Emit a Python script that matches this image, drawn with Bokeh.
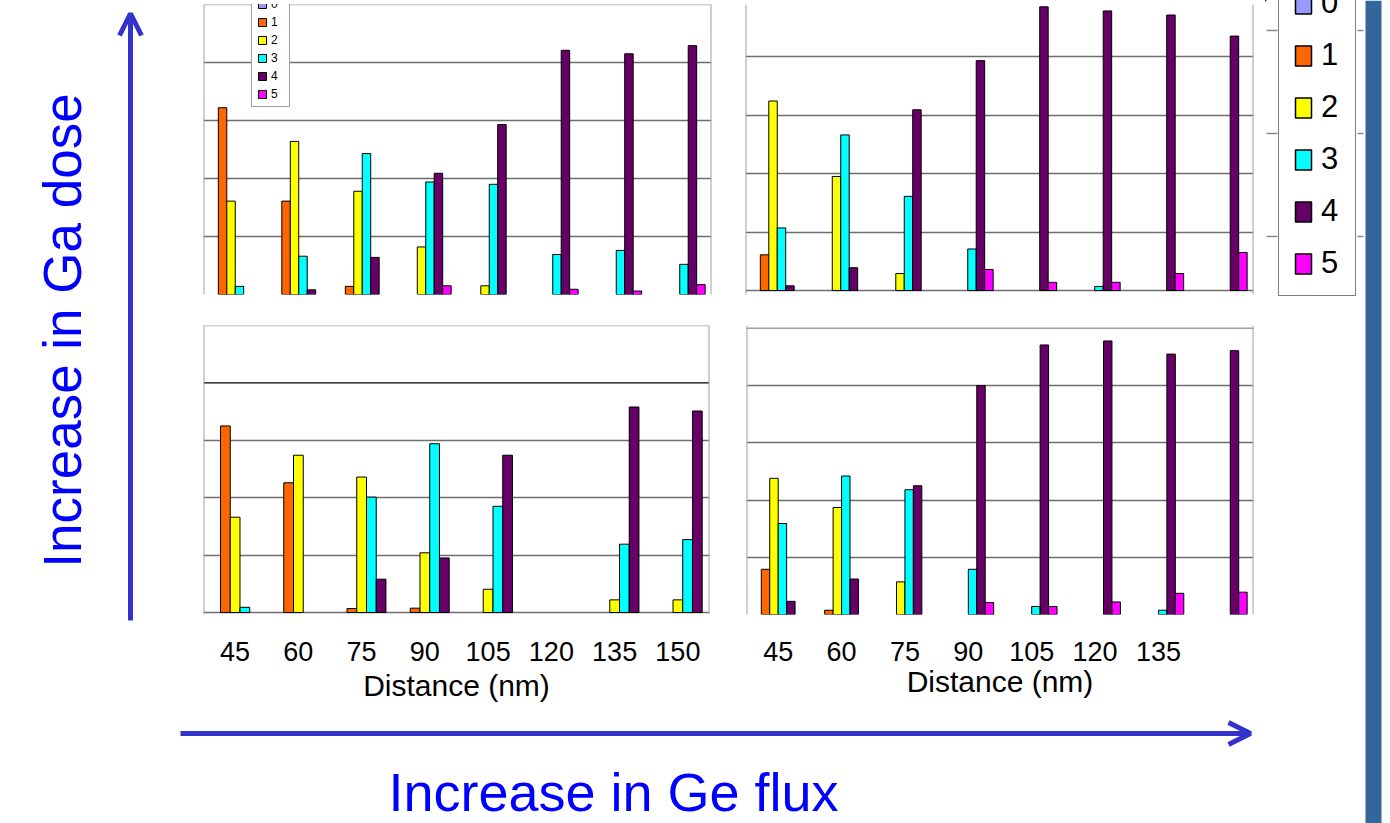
import math
from bokeh.plotting import figure
from bokeh.layouts import row, column
from bokeh.models import (ColumnDataSource, Range1d, Legend, LegendItem,
                          Arrow, OpenHead, FixedTicker, Span, Grid, Label)
from bokeh.embed import file_html
from bokeh.resources import INLINE

# ---------------- data ----------------
distances = ["45", "60", "75", "90", "105", "120", "135", "150"]
series_names = ["0", "1", "2", "3", "4", "5"]
colors = ["#9999ff", "#ff6600", "#ffff00", "#00ffff", "#660066", "#ff00ff"]

# top-left panel
tl_s0 = [0, 0, 0, 0, 0, 0, 0, 0]
tl_s1 = [32.2, 16.1, 1.4, 0, 0, 0, 0, 0]
tl_s2 = [16.1, 26.4, 17.8, 8.2, 1.5, 0, 0, 0]
tl_s3 = [1.4, 6.6, 24.3, 19.4, 19.0, 6.9, 7.6, 5.2]
tl_s4 = [0, 0.8, 6.4, 20.9, 29.3, 42.1, 41.5, 42.9]
tl_s5 = [0, 0, 0, 1.5, 0, 0.9, 0.6, 1.7]

# top-right panel
tr_s0 = [0, 0, 0, 0, 0, 0, 0, 0]
tr_s1 = [6.1, 0, 0, 0, 0, 0, 0, 0]
tr_s2 = [32.4, 19.5, 2.9, 0, 0, 0, 0, 0]
tr_s3 = [10.7, 26.6, 16.1, 7.1, 0, 0.7, 0, 0]
tr_s4 = [0.8, 3.9, 30.9, 39.3, 48.5, 47.8, 47.1, 43.5]
tr_s5 = [0, 0, 0, 3.6, 1.4, 1.4, 2.9, 6.5]

# bottom-left panel (series 0-4 only)
bl_s0 = [0, 0, 0, 0, 0, 0, 0, 0]
bl_s1 = [32.5, 22.6, 0.7, 0.75, 0, 0, 0, 0]
bl_s2 = [16.6, 27.4, 23.6, 10.4, 4.05, 0, 2.2, 2.2]
bl_s3 = [0.9, 0, 20.1, 29.4, 18.5, 0, 11.9, 12.7]
bl_s4 = [0, 0, 5.8, 9.5, 27.4, 0, 35.8, 35.1]

# bottom-right panel
br_s0 = [0, 0, 0, 0, 0, 0, 0, 0]
br_s1 = [7.9, 0.75, 0, 0, 0, 0, 0, 0]
br_s2 = [23.8, 18.7, 5.7, 0, 0, 0, 0, 0]
br_s3 = [15.9, 24.2, 21.8, 7.9, 1.4, 0, 0.75, 0]
br_s4 = [2.3, 6.2, 22.5, 40.0, 47.1, 47.8, 45.5, 46.1]
br_s5 = [0, 0, 0, 2.1, 1.4, 2.2, 3.7, 3.9]

# bottom-right shows no tick label for the last group
br_labels = ["45", "60", "75", "90", "105", "120", "135"]

y_label = "Increase in Ga dose"
x_label = "Increase in Ge flux"
axis_title = "Distance (nm)"

FONT = "Liberation Sans"
ARROW = "#3333cc"
BLUE = "#0000ff"
GRID = "#6e6e6e"
FRAME = "#a0a0a0"


def nz(vals):
    return [v if v != 0 else float("nan") for v in vals]


def panel(series, width, height, mb, y_start, y_end, labels=None, black40=False,
          top_edge=True, label_standoff=3):
    ncat = len(distances)
    p = figure(x_range=Range1d(0, ncat), y_range=Range1d(y_start, y_end),
               width=width, height=height, min_border=1, title=None,
               min_border_left=mb[0], min_border_right=mb[1],
               min_border_top=mb[2], min_border_bottom=mb[3],
               toolbar_location=None, tools="", output_backend="svg",
               x_axis_location="below" if labels else None, y_axis_location=None)
    p.grid.visible = False
    p.outline_line_color = None
    p.background_fill_color = "white"
    p.border_fill_color = "white"
    ticks = [0, 10, 20, 30] if black40 else [0, 10, 20, 30, 40]
    p.add_layout(Grid(dimension=1, ticker=FixedTicker(ticks=ticks),
                      grid_line_color=GRID, grid_line_width=1.3))
    if black40:
        p.add_layout(Span(location=40, dimension="width", line_color="black",
                          line_width=1.3, level="underlay"))
    # panel frame edges
    for xe in (0, ncat):
        p.add_layout(Span(location=xe, dimension="height", line_color=FRAME,
                          line_width=2, level="underlay"))
    if top_edge:
        p.add_layout(Span(location=50, dimension="width", line_color=FRAME,
                          line_width=1.5, level="underlay"))
    n = len(series)
    w = 1.0 / (n + 1.5)
    centers = [k + 0.5 for k in range(ncat)]
    rs = []
    for i, s in enumerate(series):
        off = 0.75 * w + (i + 0.5) * w - 0.5
        src = ColumnDataSource({"x": [c + off for c in centers], "top": nz(s)})
        r = p.vbar(x="x", top="top", bottom=0, width=w, source=src,
                   fill_color=colors[i], line_color="black", line_width=1)
        rs.append(r)
    if labels:
        ax = p.xaxis[0]
        tick_pos = [centers[distances.index(lab)] for lab in labels]
        ax.ticker = FixedTicker(ticks=tick_pos)
        ax.major_label_overrides = {t: lab for t, lab in zip(tick_pos, labels)}
        ax.axis_line_color = None
        ax.major_tick_line_color = None
        ax.minor_tick_line_color = None
        ax.major_label_text_font = FONT
        ax.major_label_text_font_size = "27px"
        ax.major_label_text_color = "black"
        ax.major_label_standoff = 21
        ax.axis_label = axis_title
        ax.axis_label_text_font = FONT
        ax.axis_label_text_font_size = "30px"
        ax.axis_label_text_font_style = "normal"
        ax.axis_label_text_color = "black"
        ax.axis_label_standoff = label_standoff
    return p, rs


# ---- top row: shared frame 4..294 px ----
tl, tl_r = panel([tl_s0, tl_s1, tl_s2, tl_s3, tl_s4, tl_s5], 545, 310, (28, 9, 4, 16), 0, 50)
tl_leg = Legend(items=[LegendItem(label=series_names[i], renderers=[tl_r[i]]) for i in range(6)],
                location=(48, 187), glyph_width=10, glyph_height=10, label_height=10,
                label_width=13, spacing=4, padding=5, label_standoff=4, margin=0,
                label_text_font=FONT, label_text_font_size="12px", label_text_color="black",
                border_line_color="#444444", border_line_width=1,
                background_fill_color="white", background_fill_alpha=1)
tl.add_layout(tl_leg)

# top-right: its baseline sits 4 px higher and its top edge is above the picture
tr, tr_r = panel([tr_s0, tr_s1, tr_s2, tr_s3, tr_s4, tr_s5], 545, 310, (25, 12, 4, 16),
                 -0.68, 48.9, top_edge=False)

# ---- bottom row: shared frame 325..614 px ----
bl, bl_r = panel([bl_s0, bl_s1, bl_s2, bl_s3, bl_s4], 545, 395, (28, 11, 15, 91),
                 -0.35, 50.0, labels=distances, black40=True, label_standoff=5)

br, br_r = panel([br_s0, br_s1, br_s2, br_s3, br_s4, br_s5], 545, 395, (26, 12, 15, 91),
                 0, 50.5, labels=br_labels, label_standoff=1)

# ---- left decoration ----
L = figure(width=175, height=823, x_range=Range1d(0, 175), y_range=Range1d(0, 823),
           min_border=0, title=None, toolbar_location=None, tools="", output_backend="svg",
           x_axis_location=None, y_axis_location=None, outline_line_color=None)
L.grid.visible = False
L.add_layout(Arrow(x_start=130, y_start=203, x_end=130, y_end=810, line_width=5,
                   line_color=ARROW,
                   end=OpenHead(size=22, line_width=5, line_color=ARROW)))
L.add_layout(Label(x=62, y=493, text=y_label, angle=math.pi / 2, text_align="center",
                   text_baseline="middle", text_font=FONT, text_font_size="53px",
                   text_color=BLUE))

# ---- bottom decoration ----
B = figure(width=1090, height=118, x_range=Range1d(175, 1265), y_range=Range1d(0, 118),
           min_border=0, title=None, toolbar_location=None, tools="", output_backend="svg",
           x_axis_location=None, y_axis_location=None, outline_line_color=None)
B.grid.visible = False
B.add_layout(Arrow(x_start=180, y_start=90, x_end=1250, y_end=90, line_width=5,
                   line_color=ARROW,
                   end=OpenHead(size=22, line_width=5, line_color=ARROW)))
B.add_layout(Label(x=613, y=31.5, text=x_label, text_align="center",
                   text_baseline="middle", text_font=FONT, text_font_size="54px",
                   text_color=BLUE))

# ---- right column: big legend + slide strip ----
R = figure(width=125, height=823, x_range=Range1d(0, 125), y_range=Range1d(0, 823),
           min_border=0, title=None, toolbar_location=None, tools="", output_backend="svg",
           x_axis_location=None, y_axis_location=None, outline_line_color=None)
R.grid.visible = False
R.quad(left=[100], right=[116], bottom=[0], top=[823], fill_color="#33669a", line_color=None)
R.segment(x0=[1, 1, 1, 92, 92, 92], y0=[793, 690, 587, 793, 690, 587],
          x1=[12, 12, 12, 98, 98, 98], y1=[793, 690, 587, 793, 690, 587],
          line_color="#888888", line_width=1.5)
# legend-only renderers (kept far outside the visible ranges)
big_r = [R.vbar(x=[-5000], bottom=[5000], top=[5001], width=1, fill_color=colors[i],
                line_color="black", line_width=1.5) for i in range(6)]
big_leg = Legend(items=[LegendItem(label=series_names[i], renderers=[big_r[i]]) for i in range(6)],
                 location=(13, 527), glyph_width=20, glyph_height=25, label_height=25,
                 label_width=20, spacing=16, padding=14, label_standoff=8, margin=0,
                 label_text_font=FONT, label_text_font_size="31px", label_text_color="black",
                 border_line_color="black", border_line_width=1.5,
                 background_fill_color="white", background_fill_alpha=1)
R.add_layout(big_leg)

layout = row(L, column(row(tl, tr), row(bl, br), B), R)

open("out.html", "w").write(file_html(layout, INLINE))
